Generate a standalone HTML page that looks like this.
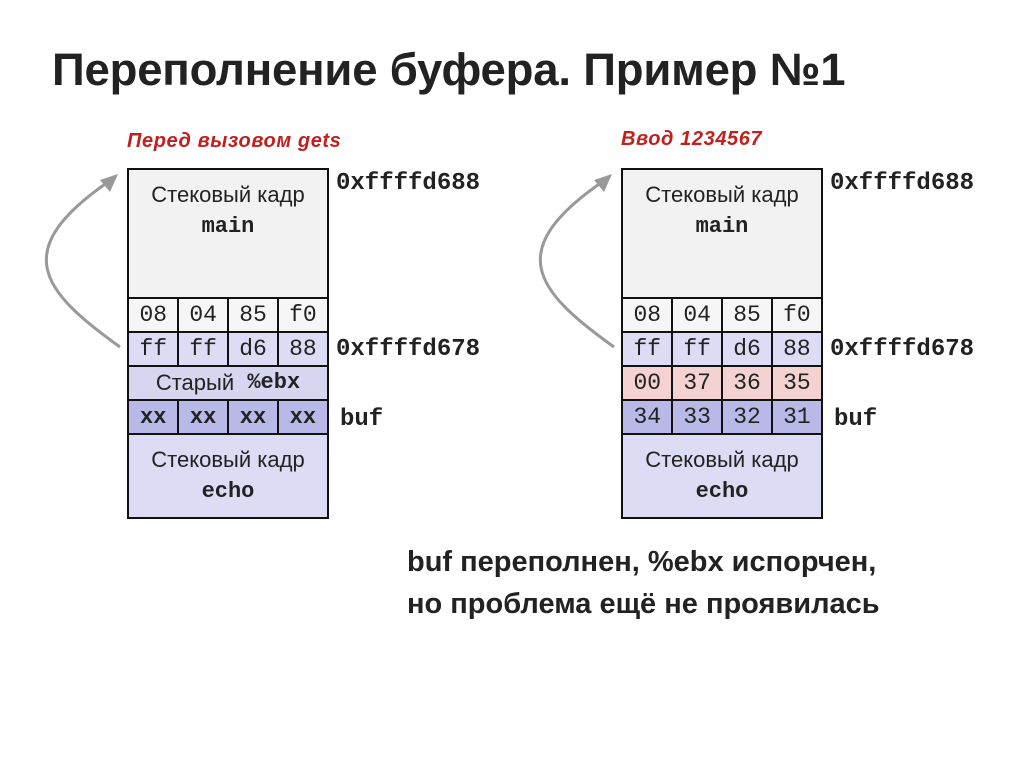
<!DOCTYPE html>
<html><head><meta charset="utf-8"><style>
body{margin:0;width:1024px;height:767px;background:#fff;position:relative;overflow:hidden;font-family:"Liberation Sans",sans-serif}
.t{position:absolute;left:52px;top:44px;font-size:45.5px;font-weight:bold;color:#222;letter-spacing:-0.2px}
.sub{position:absolute;font-size:20px;font-weight:bold;font-style:italic;color:#c0201e;letter-spacing:0.6px}
.c{position:absolute;box-sizing:border-box;border:2.5px solid #111;display:flex;align-items:center;justify-content:center;text-align:center;color:#222}
.m{font-family:"Liberation Mono",monospace;font-size:23px}
.mb{font-family:"Liberation Mono",monospace;font-weight:bold;font-size:22px}
.s{font-size:22px;line-height:30px}
.a{position:absolute;font-family:"Liberation Mono",monospace;font-size:24px;font-weight:bold;color:#222}
.bt{position:absolute;left:407px;font-size:29px;font-weight:bold;color:#222}
</style></head><body>
<div class="t">Переполнение буфера. Пример №1</div>
<div class="sub" style="left:127px;top:130px">Перед вызовом gets</div>
<div class="sub" style="left:621px;top:128px">Ввод 1234567</div>
<svg width="1024" height="767" style="position:absolute;left:0;top:0">
<path d="M120 347 C40 290 10 250 108 182" fill="none" stroke="#999" stroke-width="3"/>
<polygon points="118,174 100,180 110,192" fill="#999"/>
<path d="M614 347 C534 290 504 250 602 182" fill="none" stroke="#999" stroke-width="3"/>
<polygon points="612,174 594,180 604,192" fill="#999"/>
</svg>
<div id="L"></div>
<script>
function stack(x,r3,r4,pink){
 let h='';const W=202,cw=W/4;
 const add=(l,t,w,hh,bg,cls,txt)=>{h+=`<div class="c ${cls}" style="left:${l}px;top:${t}px;width:${w}px;height:${hh}px;background:${bg}">${txt}</div>`};
 add(x,168,W,131,'#f2f2f2','s','<div style="margin-top:-46px">Стековый кадр<br><span class="mb">main</span></div>');
 const rows=[[297,['08','04','85','f0'],'#f6f6f6','m'],[331,['ff','ff','d6','88'],'#dcdcf4','m']];
 if(r3) rows.push([365,r3,'#f4d2d2','m']);
 rows.push([399,r4,'#b9b9e8',r3?'m':'mb']);
 rows.forEach(([t,v,bg,cls])=>v.forEach((s,i)=>add(x+i*cw-(i?2.5*i/4:0),t,cw+2,36,bg,cls,s)));
 if(!r3) add(x,365,W,36,'#d6d6f0','s','Старый <span class="mb">&nbsp;%ebx</span>');
 add(x,433,W,86,'#dcdcf4','s','<div>Стековый кадр<br><span class="mb">echo</span></div>');
 h+=`<div class="a" style="left:${x+209}px;top:170px">0xffffd688</div><div class="a" style="left:${x+209}px;top:336px">0xffffd678</div><div class="a" style="left:${x+213}px;top:406px">buf</div>`;
 return h;
}
document.getElementById('L').innerHTML=stack(127,null,['xx','xx','xx','xx'])+stack(621,['00','37','36','35'],['34','33','32','31']);
</script>
<div class="bt" style="top:546px">buf переполнен, %ebx испорчен,</div>
<div class="bt" style="top:588px">но проблема ещё не проявилась</div>
</body></html>
